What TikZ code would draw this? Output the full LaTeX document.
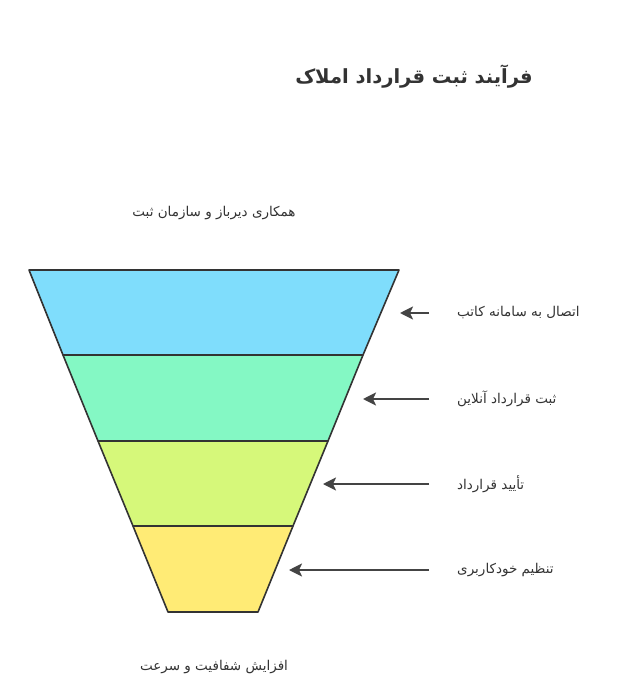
\documentclass[tikz,border=0pt]{standalone}
\usepackage{fontspec}
\usetikzlibrary{arrows.meta}
\TeXXeTstate=1
\newfontfamily\fa[Script=Arabic]{DejaVu Sans}
\definecolor{lay1}{HTML}{7FDDFC}
\definecolor{lay2}{HTML}{84F8C4}
\definecolor{lay3}{HTML}{D6F87A}
\definecolor{lay4}{HTML}{FFEB75}
\definecolor{edge}{HTML}{333333}
\definecolor{txt}{HTML}{333333}
\definecolor{arr}{HTML}{444444}
\tikzset{
  layer/.style={draw=edge, line width=1.6pt, line join=round},
  lbl/.style={anchor=west, inner sep=0pt, text=txt, font=\fa\fontsize{13.5}{15}\selectfont},
  captext/.style={inner sep=0pt, text=txt, font=\fa\fontsize{13.5}{15}\selectfont},
  pointer/.style={draw=arr, line width=2pt, -{Stealth[length=13pt,width=13pt,inset=3pt]}}
}
\begin{document}
\begin{tikzpicture}[x=1pt,y=-1pt]
\useasboundingbox (0,0) rectangle (627,690);
\fill[white] (0,0) rectangle (627,690);
% funnel layers
\filldraw[layer, fill=lay1] (29,270) -- (399,270) -- (363,355) -- (63,355) -- cycle;
\filldraw[layer, fill=lay2] (63,355) -- (363,355) -- (328,441) -- (98,441) -- cycle;
\filldraw[layer, fill=lay3] (98,441) -- (328,441) -- (293,526) -- (133,526) -- cycle;
\filldraw[layer, fill=lay4] (133,526) -- (293,526) -- (258,612) -- (168,612) -- cycle;
% title
\node[text=txt, inner sep=0pt, font=\fa\bfseries\fontsize{19.5}{22}\selectfont] (title) at (414,77) {\beginR فرآیند ثبت قرارداد املاک\endR};
% top / bottom captions
\node[captext] (top) at (214,213) {\beginR همکاری دیرباز و سازمان ثبت\endR};
\node[captext] (bottom) at (214,667) {\beginR افزایش شفافیت و سرعت\endR};
% labels
\node[lbl] (l1) at (457,313) {\beginR اتصال به سامانه کاتب\endR};
\node[lbl] (l2) at (457,399) {\beginR ثبت قرارداد آنلاین\endR};
\node[lbl] (l3) at (457,484) {\beginR تأیید قرارداد\endR};
\node[lbl] (l4) at (457,570) {\beginR تنظیم خودکاربری\endR};
% arrow ends
\coordinate (s1) at (429,313); \coordinate (e1) at (400,313);
\coordinate (s2) at (429,399); \coordinate (e2) at (363,399);
\coordinate (s3) at (429,484); \coordinate (e3) at (323,484);
\coordinate (s4) at (429,570); \coordinate (e4) at (289,570);
\draw[pointer] (s1) -- (e1);
\draw[pointer] (s2) -- (e2);
\draw[pointer] (s3) -- (e3);
\draw[pointer] (s4) -- (e4);
\end{tikzpicture}
\end{document}
